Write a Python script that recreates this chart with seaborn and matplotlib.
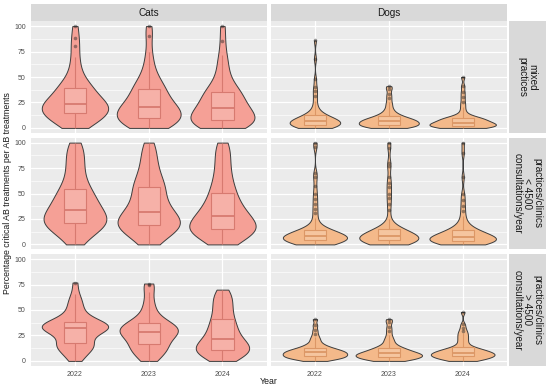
import pandas as pd
import matplotlib
matplotlib.use("Agg")
import matplotlib.pyplot as plt
import seaborn as sns

years = ["2022", "2023", "2024"]
species = ["Cats", "Dogs"]
practice_types = [
    "mixed\npractices",
    "practices/clinics\n< 4500\nconsultations/year",
    "practices/clinics\n> 4500\nconsultations/year",
]

# values read off the violins / boxes (approximate per-practice percentages)
cats_mixed_2022 = [0, 2, 4, 6, 8, 9, 10, 11, 12, 14, 15, 16, 17, 18, 19, 20, 21, 22, 23, 23,
                   24, 25, 26, 28, 30, 32, 34, 36, 38, 39, 40, 43, 46, 50, 55, 62, 70, 80, 88, 100]
cats_mixed_2023 = [0, 1, 2, 3, 4, 5, 6, 7, 8, 9, 10, 12, 13, 14, 15, 16, 17, 18, 19, 20,
                   21, 22, 24, 26, 28, 30, 32, 34, 36, 38, 40, 42, 45, 48, 52, 58, 65, 75, 90, 100]
cats_mixed_2024 = [0, 0, 1, 2, 3, 4, 5, 5, 6, 7, 8, 9, 10, 11, 13, 14, 15, 16, 18, 19,
                   20, 21, 23, 25, 27, 29, 31, 33, 34, 35, 37, 40, 43, 47, 52, 58, 65, 72, 85, 100]
cats_small_2022 = [0, 4, 8, 11, 14, 16, 17, 18, 19, 20, 21, 22, 24, 25, 26, 28, 29, 30, 32, 33,
                   35, 37, 39, 41, 43, 45, 47, 49, 52, 54, 57, 61, 65, 70, 75, 80, 85, 90, 95, 100]
cats_small_2023 = [0, 3, 6, 9, 12, 14, 15, 16, 17, 18, 19, 20, 21, 22, 24, 25, 26, 28, 30, 31,
                   33, 35, 37, 40, 42, 45, 48, 51, 54, 56, 58, 61, 64, 68, 72, 77, 82, 88, 94, 100]
cats_small_2024 = [0, 2, 5, 7, 9, 11, 12, 13, 14, 14, 15, 16, 17, 18, 19, 20, 22, 24, 26, 27,
                   28, 30, 32, 34, 36, 38, 41, 44, 47, 50, 53, 57, 61, 66, 71, 77, 83, 89, 95, 100]
cats_large_2022 = [0, 3, 6, 9, 11, 13, 14, 15, 16, 17, 18, 20, 23, 26, 28, 29, 30, 31, 31, 32,
                   32, 33, 34, 34, 35, 35, 36, 37, 37, 38, 39, 41, 43, 46, 49, 53, 57, 60, 66, 77]
cats_large_2023 = [0, 2, 4, 7, 9, 11, 12, 13, 14, 15, 17, 19, 21, 23, 24, 25, 26, 27, 27, 28,
                   29, 30, 31, 32, 33, 34, 34, 35, 36, 37, 38, 40, 43, 46, 50, 55, 60, 68, 75, 76]
cats_large_2024 = [0, 1, 3, 5, 6, 7, 8, 9, 10, 10, 11, 12, 13, 14, 15, 16, 17, 18, 20, 21,
                   22, 24, 26, 28, 30, 32, 34, 36, 38, 40, 43, 46, 49, 52, 55, 58, 61, 64, 67, 70]

dogs_mixed_2022 = [0, 0, 0, 1, 1, 1, 2, 2, 2, 2, 3, 3, 3, 4, 4, 4, 5, 5, 5, 6,
                   6, 6, 7, 7, 7, 8, 8, 8, 9, 9, 10, 10, 11, 11, 12, 13, 14, 16, 18, 21,
                   26, 31, 36, 40, 48, 68, 86]
dogs_mixed_2023 = [0, 0, 0, 1, 1, 1, 2, 2, 2, 3, 3, 3, 4, 4, 4, 5, 5, 5, 6, 6,
                   6, 7, 7, 7, 8, 8, 8, 9, 9, 10, 10, 11, 11, 12, 13, 14, 15, 17, 19, 22,
                   25, 29, 33, 38, 41]
dogs_mixed_2024 = [0, 0, 0, 0, 1, 1, 1, 1, 2, 2, 2, 2, 3, 3, 3, 3, 4, 4, 4, 4,
                   5, 5, 5, 6, 6, 7, 7, 8, 8, 9, 9, 9, 9, 10, 10, 11, 12, 14, 17, 21,
                   25, 30, 35, 41, 50]
dogs_small_2022 = [0, 0, 1, 1, 1, 2, 2, 2, 3, 3, 3, 4, 4, 4, 4, 5, 5, 5, 5, 6,
                   6, 6, 6, 7, 7, 7, 7, 8, 8, 8, 9, 9, 9, 10, 10, 10, 11, 11, 12, 12,
                   12, 13, 13, 14, 14, 15, 17, 19, 22, 26, 31, 35, 40, 45, 50, 57, 66, 70, 96, 100]
dogs_small_2023 = [0, 0, 0, 1, 1, 2, 2, 2, 3, 3, 3, 3, 4, 4, 4, 4, 5, 5, 5, 5,
                   6, 6, 6, 6, 7, 7, 7, 7, 8, 8, 8, 9, 9, 10, 10, 11, 11, 12, 12, 13,
                   13, 13, 14, 14, 15, 15, 16, 18, 21, 25, 34, 40, 46, 50, 56, 60, 66, 77, 80, 95, 100]
dogs_small_2024 = [0, 0, 0, 1, 1, 1, 2, 2, 2, 2, 3, 3, 3, 3, 4, 4, 4, 5, 5, 5,
                   5, 6, 6, 6, 6, 7, 7, 7, 8, 8, 8, 9, 9, 10, 10, 11, 11, 12, 12, 13,
                   13, 14, 15, 16, 17, 19, 21, 24, 28, 33, 38, 44, 50, 66, 90, 100]
dogs_large_2022 = [0, 1, 1, 2, 2, 3, 3, 3, 4, 4, 4, 5, 5, 5, 6, 6, 6, 7, 7, 7,
                   8, 8, 8, 9, 9, 9, 10, 10, 10, 11, 11, 12, 12, 13, 13, 14, 15, 16, 17, 19,
                   21, 23, 26, 30, 35, 41]
dogs_large_2023 = [0, 0, 1, 1, 2, 2, 2, 3, 3, 3, 4, 4, 4, 5, 5, 5, 6, 6, 6, 6,
                   7, 7, 7, 8, 8, 8, 9, 9, 10, 10, 11, 11, 12, 12, 13, 14, 15, 16, 18, 20,
                   22, 25, 29, 33, 38, 41]
dogs_large_2024 = [0, 0, 1, 1, 2, 2, 3, 3, 3, 4, 4, 4, 5, 5, 5, 6, 6, 6, 7, 7,
                   7, 7, 8, 8, 8, 9, 9, 10, 10, 10, 11, 11, 12, 12, 13, 14, 15, 17, 19, 21,
                   23, 25, 27, 29, 32, 36, 48]

groups = {
    ("Cats", 0): [cats_mixed_2022, cats_mixed_2023, cats_mixed_2024],
    ("Cats", 1): [cats_small_2022, cats_small_2023, cats_small_2024],
    ("Cats", 2): [cats_large_2022, cats_large_2023, cats_large_2024],
    ("Dogs", 0): [dogs_mixed_2022, dogs_mixed_2023, dogs_mixed_2024],
    ("Dogs", 1): [dogs_small_2022, dogs_small_2023, dogs_small_2024],
    ("Dogs", 2): [dogs_large_2022, dogs_large_2023, dogs_large_2024],
}

records = []
for (sp, r), lists in groups.items():
    for yr, vals in zip(years, lists):
        for v in vals:
            records.append({"species": sp, "practice": practice_types[r], "year": yr, "value": v})
df = pd.DataFrame(records)

fill = {"Cats": "#F5A096", "Dogs": "#F4B98A"}
edge = {"Cats": "#D77A70", "Dogs": "#DC9766"}
bw = {"Cats": 0.75, "Dogs": 0.5}

sns.set_theme(style="darkgrid", rc={"axes.facecolor": "#EBEBEB", "grid.color": "white"})
plt.rcParams["font.family"] = ["Liberation Sans", "DejaVu Sans"]

W, H = 550, 389
fig = plt.figure(figsize=(W / 100, H / 100), dpi=100)
fig.patch.set_facecolor("white")


def px_axes(x0, y0, x1, y1):
    return fig.add_axes([x0 / W, 1 - y1 / H, (x1 - x0) / W, (y1 - y0) / H])


col_x = [(30.7, 266.7), (270.6, 507.0)]
row_y = [(21.0, 133.0), (137.5, 249.5), (254.0, 366.0)]

for r, pt in enumerate(practice_types):
    for c, sp in enumerate(species):
        ax = px_axes(col_x[c][0], row_y[r][0], col_x[c][1], row_y[r][1])
        sub = df[(df["species"] == sp) & (df["practice"] == pt)]
        sns.violinplot(data=sub, x="year", y="value", order=years, color=fill[sp],
                       saturation=1, linecolor="#3d3d3d", linewidth=0.7, inner=None,
                       cut=0, density_norm="area", width=0.9, bw_adjust=bw[sp], ax=ax)
        sns.boxplot(data=sub, x="year", y="value", order=years, width=0.3, color=fill[sp],
                    saturation=1, linecolor=edge[sp], linewidth=0.8, showcaps=False,
                    fliersize=2.6,
                    flierprops=dict(marker="o", markerfacecolor="#222222",
                                    markeredgecolor="none", alpha=0.45),
                    medianprops=dict(linewidth=1.3), ax=ax)
        for p in ax.patches:
            p.set_facecolor((1, 1, 1, 0.18))
        ax.set_xlim(-0.6, 2.6)
        ax.set_ylim(-5, 105)
        ax.set_yticks([0, 25, 50, 75, 100])
        ax.set_yticks([12.5, 37.5, 62.5, 87.5], minor=True)
        ax.grid(True, which="major", color="white", linewidth=0.9)
        ax.grid(True, which="minor", axis="y", color="white", linewidth=0.45)
        ax.set_axisbelow(True)
        for s in ax.spines.values():
            s.set_visible(False)
        ax.set_xlabel("")
        ax.set_ylabel("")
        ax.tick_params(axis="both", which="major", length=2, width=0.6, color="#333333",
                       labelsize=5, labelcolor="#4D4D4D", pad=1.5)
        ax.tick_params(axis="both", which="minor", length=0)
        if c != 0:
            ax.tick_params(axis="y", length=0, labelleft=False)
        if r != 2:
            ax.tick_params(axis="x", length=0, labelbottom=False)

# top strips
for c, sp in enumerate(species):
    sax = px_axes(col_x[c][0], 4.0, col_x[c][1], 21.0)
    sax.set_facecolor("#D9D9D9")
    sax.set_xticks([])
    sax.set_yticks([])
    sax.grid(False)
    for s in sax.spines.values():
        s.set_visible(False)
    sax.text(0.5, 0.5, sp, ha="center", va="center", fontsize=7.2, color="#1A1A1A",
             transform=sax.transAxes)

# right strips
for r, pt in enumerate(practice_types):
    sax = px_axes(508.5, row_y[r][0], 546.0, row_y[r][1])
    sax.set_facecolor("#D9D9D9")
    sax.set_xticks([])
    sax.set_yticks([])
    sax.grid(False)
    for s in sax.spines.values():
        s.set_visible(False)
    sax.text(0.5, 0.5, pt, ha="center", va="center", fontsize=7.2, color="#1A1A1A",
             rotation=-90, linespacing=1.0, multialignment="center", transform=sax.transAxes)

fig.text(8 / W, 1 - 193.5 / H, "Percentage critical AB treatments per AB treatments",
         rotation=90, ha="center", va="center", fontsize=6.3, color="#1A1A1A")
fig.text(269 / W, 1 - 382 / H, "Year", ha="center", va="center", fontsize=6.3, color="#1A1A1A")

fig.savefig("out.png", dpi=100)
